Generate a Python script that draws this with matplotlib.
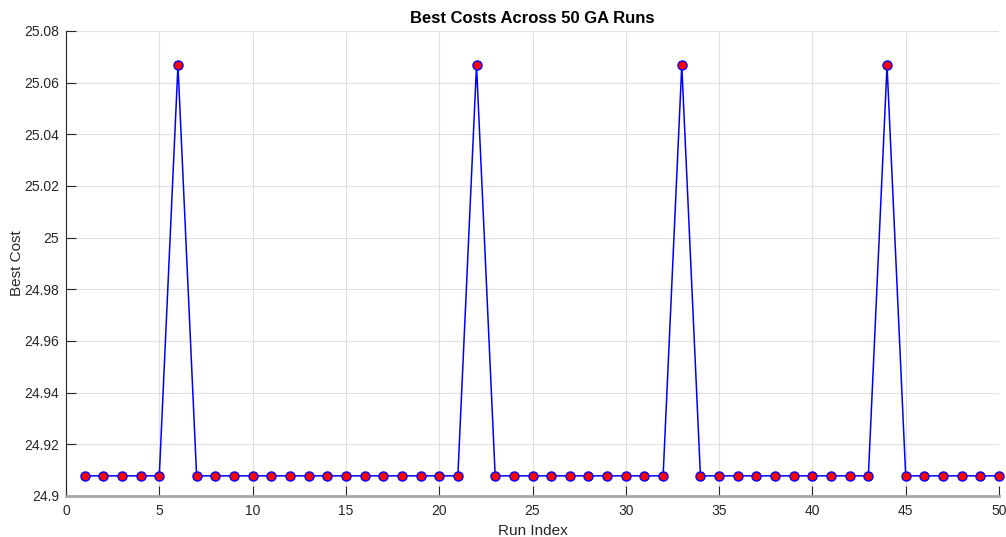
import matplotlib
matplotlib.use("Agg")
import matplotlib.pyplot as plt
import numpy as np

plt.rcParams["font.family"] = ["Liberation Sans", "DejaVu Sans"]

LOW = 24.9078
HIGH = 25.0667
runs = list(range(1, 51))
peak_runs = [6, 22, 33, 44]
best_costs = [HIGH if r in peak_runs else LOW for r in runs]

x_ticks = list(range(0, 51, 5))
y_ticks = [24.90, 24.92, 24.94, 24.96, 24.98, 25.00, 25.02, 25.04, 25.06, 25.08]
y_labels = ["24.9", "24.92", "24.94", "24.96", "24.98", "25", "25.02", "25.04", "25.06", "25.08"]

fig = plt.figure(figsize=(10.06, 5.37), dpi=100, facecolor="white")
ax = fig.add_axes([66 / 1006, 41 / 537, 933 / 1006, 465 / 537])

ax.plot(runs, best_costs, color="blue", linewidth=1.1, marker="o",
        markersize=6.5, markerfacecolor="red", markeredgecolor="blue",
        markeredgewidth=1.0, zorder=3, clip_on=False)

ax.set_xlim(0, 50)
ax.set_ylim(24.9, 25.08)
ax.set_xticks(x_ticks)
ax.set_yticks(y_ticks)
ax.set_yticklabels(y_labels)
ax.grid(True, color="#e0e0e0", linewidth=0.8)
ax.set_axisbelow(True)

ax.spines["top"].set_visible(False)
ax.spines["right"].set_visible(False)
ax.spines["left"].set_color("#262626")
ax.spines["bottom"].set_color("#a6a6a6")
ax.spines["bottom"].set_linewidth(2.0)
ax.tick_params(direction="in", length=7, width=0.8, colors="#262626",
               labelsize=10, labelcolor="#262626")
ax.tick_params(axis="y", pad=5)
ax.tick_params(axis="x", pad=6)

ax.set_xlabel("Run Index", fontsize=11, color="#262626", labelpad=4)
ax.set_ylabel("Best Cost", fontsize=11, color="#262626")
ax.yaxis.set_label_coords(-0.045, 0.5)
ax.set_title("Best Costs Across 50 GA Runs", fontsize=12, fontweight="bold", pad=6)

fig.savefig("out.png", dpi=100, facecolor="white")
